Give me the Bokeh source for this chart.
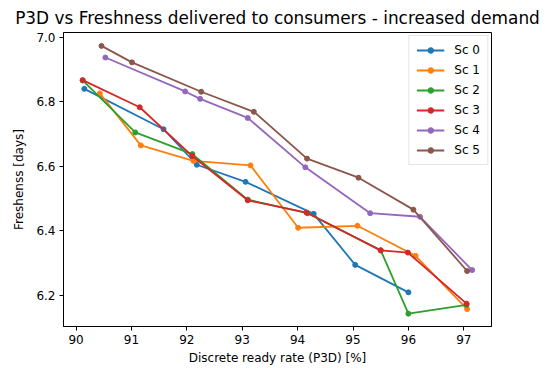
from bokeh.plotting import figure
from bokeh.models import Range1d, FixedTicker, PrintfTickFormatter, Legend, LegendItem
from bokeh.embed import file_html
from bokeh.resources import INLINE

# Data
labels = ["Sc 0", "Sc 1", "Sc 2", "Sc 3", "Sc 4", "Sc 5"]
sc0_x = [90.15, 91.58, 92.18, 93.06, 94.29, 95.04, 96.00]
sc0_y = [6.840, 6.715, 6.605, 6.552, 6.453, 6.295, 6.210]
sc1_x = [90.43, 91.17, 92.12, 93.15, 94.01, 95.08, 96.13, 97.06]
sc1_y = [6.826, 6.665, 6.617, 6.603, 6.410, 6.416, 6.323, 6.158]
sc2_x = [90.12, 91.07, 92.10, 93.10, 94.18, 95.50, 96.00, 97.05]
sc2_y = [6.866, 6.705, 6.638, 6.497, 6.455, 6.340, 6.144, 6.171]
sc3_x = [90.12, 91.15, 92.10, 93.10, 94.16, 95.50, 95.99, 97.05]
sc3_y = [6.867, 6.783, 6.632, 6.495, 6.457, 6.340, 6.333, 6.175]
sc4_x = [90.53, 91.97, 92.24, 93.10, 94.14, 95.31, 96.21, 97.15]
sc4_y = [6.937, 6.832, 6.809, 6.750, 6.597, 6.455, 6.444, 6.279]
sc5_x = [90.46, 91.01, 92.26, 93.21, 94.17, 95.10, 96.09, 97.06]
sc5_y = [6.973, 6.922, 6.831, 6.769, 6.624, 6.565, 6.466, 6.276]

xs = [sc0_x, sc1_x, sc2_x, sc3_x, sc4_x, sc5_x]
ys = [sc0_y, sc1_y, sc2_y, sc3_y, sc4_y, sc5_y]
colors = ["#1f77b4", "#ff7f0e", "#2ca02c", "#d62728", "#9467bd", "#8c564b"]

x_ticks = [90, 91, 92, 93, 94, 95, 96, 97]
y_ticks = [6.2, 6.4, 6.6, 6.8, 7.0]

FONT = "DejaVu Sans"

p = figure(width=554, height=368, output_backend="svg", toolbar_location=None,
           x_range=Range1d(89.774, 97.50), y_range=Range1d(6.1042, 7.0145),
           title="P3D vs Freshness delivered to consumers - increased demand",
           min_border_left=63, min_border_right=63, min_border_top=31, min_border_bottom=42)

p.title.text_font = FONT
p.title.text_font_size = "16.9px"
p.title.text_font_style = "normal"
p.title.align = "center"
p.title.offset = 27
p.title.text_color = "#000000"

p.grid.visible = False
p.outline_line_color = "#000000"
p.outline_line_width = 1

for ax in (p.xaxis[0], p.yaxis[0]):
    ax.major_label_text_font = FONT
    ax.major_label_text_font_size = "12px"
    ax.major_label_text_color = "#000000"
    ax.axis_label_text_font = FONT
    ax.axis_label_text_font_size = "12px"
    ax.axis_label_text_font_style = "normal"
    ax.axis_label_text_color = "#000000"
    ax.minor_tick_line_color = None
    ax.major_tick_in = 0
    ax.major_tick_out = 4
    ax.axis_line_color = "#000000"
    ax.major_tick_line_color = "#000000"

p.xaxis.ticker = FixedTicker(ticks=x_ticks)
p.yaxis.ticker = FixedTicker(ticks=y_ticks)
p.yaxis.formatter = PrintfTickFormatter(format="%.1f")
p.xaxis.axis_label = "Discrete ready rate (P3D) [%]"
p.yaxis.axis_label = "Freshenss [days]"
p.xaxis.major_label_standoff = 4
p.yaxis.major_label_standoff = 4
p.xaxis.axis_label_standoff = 4
p.yaxis.axis_label_standoff = 7

items = []
for lab, x, y, c in zip(labels, xs, ys, colors):
    r1 = p.line(x, y, line_color=c, line_width=1.8)
    r2 = p.scatter(x, y, size=5, fill_color=c, line_color=c)
    items.append(LegendItem(label=lab, renderers=[r1, r2]))

legend = Legend(items=items, location="top_right")
legend.label_text_font = FONT
legend.label_text_font_size = "12px"
legend.label_text_color = "#000000"
legend.border_line_color = "#cccccc"
legend.border_line_width = 1
legend.background_fill_alpha = 0.8
legend.glyph_width = 28
legend.glyph_height = 14
legend.label_height = 14
legend.spacing = 6
legend.padding = 7
legend.margin = 3
legend.label_standoff = 10
p.add_layout(legend)

open("out.html", "w").write(file_html(p, INLINE))
